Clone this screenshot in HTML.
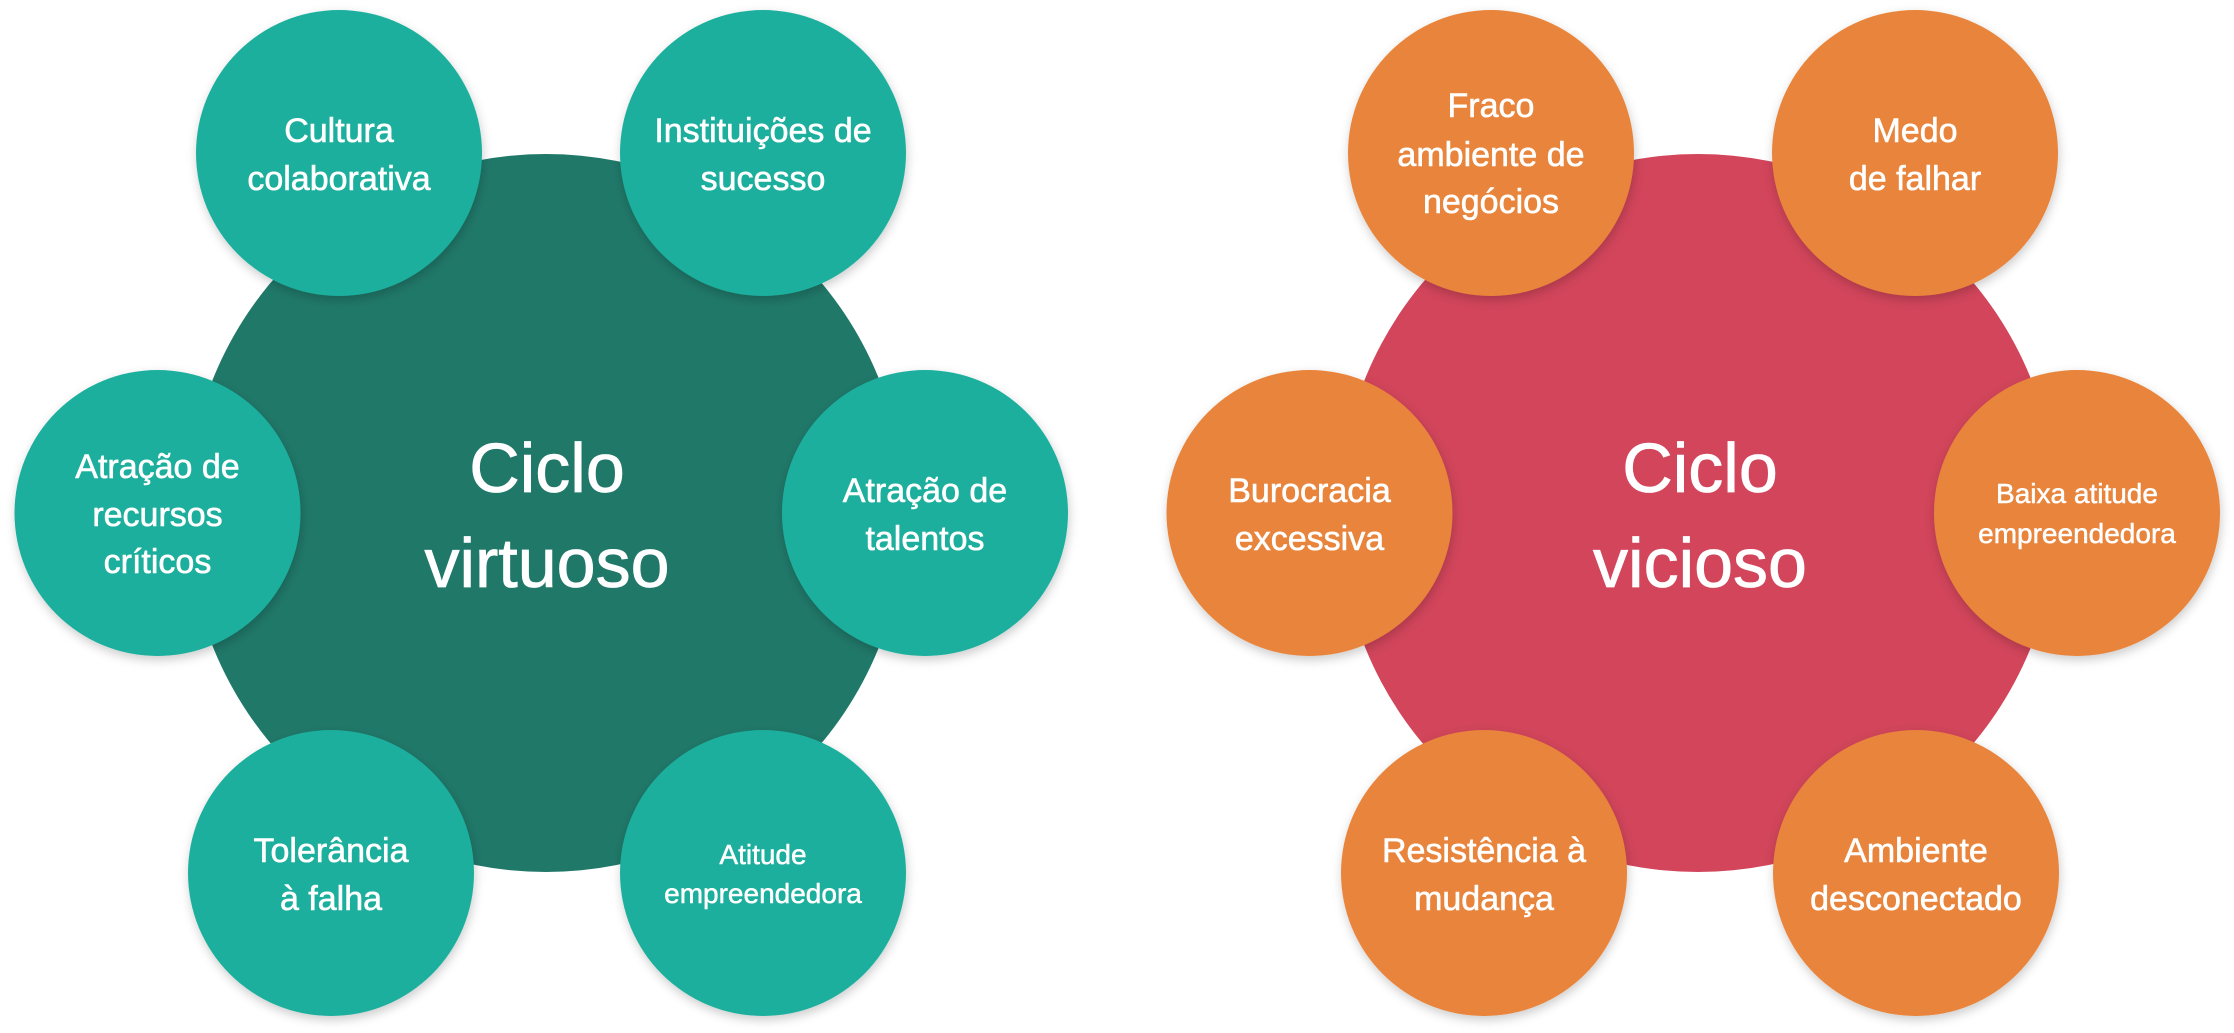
<!DOCTYPE html>
<html>
<head>
<meta charset="utf-8">
<style>
  html,body{margin:0;padding:0;background:#ffffff;}
  body{width:2234px;height:1033px;overflow:hidden;}
  svg{display:block;}
  text{font-family:"Liberation Sans", Arial, sans-serif;fill:#ffffff;text-anchor:middle;stroke:#ffffff;stroke-width:0.6px;}
  .s{font-size:34px;}
  .xs{font-size:28px;stroke-width:0.5px;}
  .b{font-size:70px;stroke-width:0.8px;}
</style>
</head>
<body>
<svg width="2234" height="1033" viewBox="0 0 2234 1033" xmlns="http://www.w3.org/2000/svg">
  <defs>
    <filter id="sh" x="-20%" y="-20%" width="140%" height="150%">
      <feDropShadow dx="1" dy="4" stdDeviation="5" flood-color="#000000" flood-opacity="0.2"/>
    </filter>
  </defs>

  <!-- LEFT: Ciclo virtuoso -->
  <circle cx="546" cy="513" r="359" fill="#207869"/>
  <text class="b" x="547" y="492">Ciclo</text>
  <text class="b" x="547" y="587">virtuoso</text>

  <g fill="#1caf9d" filter="url(#sh)">
    <circle cx="339" cy="153" r="143"/>
    <circle cx="763" cy="153" r="143"/>
    <circle cx="157.5" cy="513" r="143"/>
    <circle cx="925" cy="513" r="143"/>
    <circle cx="331" cy="873" r="143"/>
    <circle cx="763" cy="873" r="143"/>
  </g>

  <text class="s" x="339" y="142">Cultura</text>
  <text class="s" x="339" y="190">colaborativa</text>

  <text class="s" x="763" y="142">Instituições de</text>
  <text class="s" x="763" y="190">sucesso</text>

  <text class="s" x="157.5" y="478">Atração de</text>
  <text class="s" x="157.5" y="526">recursos</text>
  <text class="s" x="157.5" y="573">críticos</text>

  <text class="s" x="925" y="502">Atração de</text>
  <text class="s" x="925" y="550">talentos</text>

  <text class="s" x="331" y="862">Tolerância</text>
  <text class="s" x="331" y="910">à falha</text>

  <text class="xs" x="763" y="864">Atitude</text>
  <text class="xs" x="763" y="903">empreendedora</text>

  <!-- RIGHT: Ciclo vicioso -->
  <circle cx="1698" cy="513" r="359" fill="#d2455b"/>
  <text class="b" x="1700" y="492">Ciclo</text>
  <text class="b" x="1700" y="587">vicioso</text>

  <g fill="#e8843b" filter="url(#sh)">
    <circle cx="1491" cy="153" r="143"/>
    <circle cx="1915" cy="153" r="143"/>
    <circle cx="1309.5" cy="513" r="143"/>
    <circle cx="2077" cy="513" r="143"/>
    <circle cx="1484" cy="873" r="143"/>
    <circle cx="1916" cy="873" r="143"/>
  </g>

  <text class="s" x="1491" y="117">Fraco</text>
  <text class="s" x="1491" y="166">ambiente de</text>
  <text class="s" x="1491" y="213">negócios</text>

  <text class="s" x="1915" y="142">Medo</text>
  <text class="s" x="1915" y="190">de falhar</text>

  <text class="s" x="1309.5" y="502">Burocracia</text>
  <text class="s" x="1309.5" y="550">excessiva</text>

  <text class="xs" x="2077" y="503">Baixa atitude</text>
  <text class="xs" x="2077" y="543">empreendedora</text>

  <text class="s" x="1484" y="862">Resistência à</text>
  <text class="s" x="1484" y="910">mudança</text>

  <text class="s" x="1916" y="862">Ambiente</text>
  <text class="s" x="1916" y="910">desconectado</text>
</svg>
</body>
</html>
